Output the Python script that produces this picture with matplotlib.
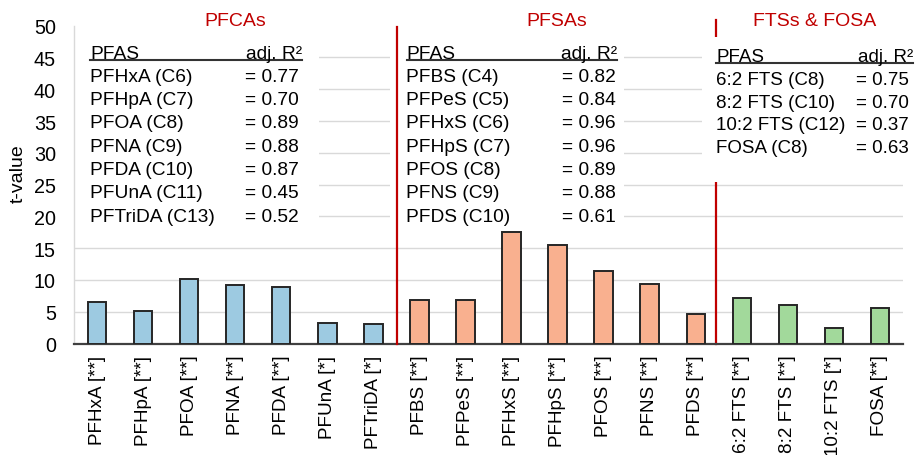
import matplotlib
matplotlib.use("Agg")
import matplotlib.pyplot as plt
from matplotlib.patches import Rectangle
from matplotlib.transforms import Affine2D

plt.rcParams['font.family'] = ['Liberation Sans', 'DejaVu Sans']

# ---- data -------------------------------------------------------------
compounds = ["PFHxA [**]", "PFHpA [**]", "PFOA [**]", "PFNA [**]", "PFDA [**]",
             "PFUnA [*]", "PFTriDA [*]",
             "PFBS [**]", "PFPeS [**]", "PFHxS [**]", "PFHpS [**]", "PFOS [**]",
             "PFNS [**]", "PFDS [**]",
             "6:2 FTS [**]", "8:2 FTS [**]", "10:2 FTS [*]", "FOSA [**]"]
t_values = [6.6, 5.1, 10.2, 9.2, 8.9, 3.3, 3.0,
            6.9, 6.9, 17.5, 15.5, 11.4, 9.3, 4.6,
            7.1, 6.1, 2.5, 5.6]
group_of = [0] * 7 + [1] * 7 + [2] * 4

group_names = ["PFCAs", "PFSAs", "FTSs & FOSA"]
group_colors = ["#9DCAE1", "#F9B08F", "#A2D99B"]

pfca_names = ["PFHxA (C6)", "PFHpA (C7)", "PFOA (C8)", "PFNA (C9)",
              "PFDA (C10)", "PFUnA (C11)", "PFTriDA (C13)"]
pfca_r2 = ["0.77", "0.70", "0.89", "0.88", "0.87", "0.45", "0.52"]
pfsa_names = ["PFBS (C4)", "PFPeS (C5)", "PFHxS (C6)", "PFHpS (C7)",
              "PFOS (C8)", "PFNS (C9)", "PFDS (C10)"]
pfsa_r2 = ["0.82", "0.84", "0.96", "0.96", "0.89", "0.88", "0.61"]
fts_names = ["6:2 FTS (C8)", "8:2 FTS (C10)", "10:2 FTS (C12)", "FOSA (C8)"]
fts_r2 = ["0.75", "0.70", "0.37", "0.63"]

y_ticks = [0, 5, 10, 15, 20, 25, 30, 35, 40, 45, 50]

# ---- figure -------------------------------------------------------------
W, H = 917, 456
fig = plt.figure(figsize=(W / 100, H / 100), dpi=100)
ax = fig.add_axes([74 / W, 1 - 344.5 / H, (903 - 74) / W, (344.5 - 26.7) / H])

# pixel-space transform (origin top-left) for free-standing text
pix = Affine2D().scale(1 / W, -1 / H).translate(0, 1) + fig.transFigure

FS = 13.8
RED = "#C00000"

x = list(range(len(compounds)))
ax.bar(x, t_values, width=0.4,
       color=[group_colors[g] for g in group_of],
       edgecolor="#262626", linewidth=1.4, zorder=3)

ax.set_xlim(-0.5, len(compounds) - 0.5)
ax.set_ylim(0, 50)
ax.set_yticks(y_ticks)
ax.set_xticks(x)
ax.set_xticklabels(compounds, rotation=90, fontsize=13.6)
ax.tick_params(axis="x", length=0, pad=8.0, colors="#000000")
ax.tick_params(axis="y", length=0, pad=13, labelsize=14.2)

ax.set_axisbelow(True)
ax.yaxis.grid(True, color="#D9D9D9", linewidth=1.0)
ax.get_ygridlines()[-1].set_visible(False)

for s in ["top", "right"]:
    ax.spines[s].set_visible(False)
ax.spines["left"].set_color("#D9D9D9")
ax.spines["left"].set_linewidth(1.0)
ax.spines["bottom"].set_color("#404040")
ax.spines["bottom"].set_linewidth(1.6)

# group separators
ax.plot([6.51, 6.51], [0, 49.8], color=RED, linewidth=1.6, zorder=4,
        clip_on=False)
ax.plot([13.43, 13.43], [0, 50.9], color=RED, linewidth=1.6, zorder=0.9,
        clip_on=False)

# white panels behind the R² tables
def px_to_x(px):
    return (px - 74) / ((903 - 74) / len(compounds)) - 0.5

for x0, x1, y0, y1 in [(75, 319, 17.6, 50), (390, 624, 17.6, 50),
                       (702, 917, 25.4, 48.2)]:
    ax.add_patch(Rectangle((px_to_x(x0), y0), px_to_x(x1) - px_to_x(x0),
                           y1 - y0, facecolor="white", edgecolor="none",
                           zorder=1, clip_on=False))

# y-axis label
fig.text(18.5, 173.5, "t-value", transform=pix, rotation=90,
         ha="center", va="center", fontsize=14)

# group titles
for name, cx in zip(group_names, [235, 557, 815]):
    fig.text(cx, 26, name, transform=pix, ha="center", va="baseline",
             fontsize=14, color=RED)


def draw_table(names, r2, x_name, x_val, x_right, y_head, y_rows, fs=FS):
    fig.text(x_name, y_head, "PFAS", transform=pix, ha="left",
             va="baseline", fontsize=fs)
    fig.text(x_right, y_head, "adj. R²", transform=pix, ha="right",
             va="baseline", fontsize=fs)
    fig.add_artist(plt.Line2D([x_name, x_right], [y_head + 2, y_head + 2],
                              transform=pix, color="#333333", linewidth=1.5))
    for n, v, yb in zip(names, r2, y_rows):
        fig.text(x_name, yb, n, transform=pix, ha="left", va="baseline",
                 fontsize=fs)
        fig.text(x_val, yb, "= " + v, transform=pix, ha="left",
                 va="baseline", fontsize=fs)


rows7 = [81.7 + 23.33 * i for i in range(7)]
draw_table(pfca_names, pfca_r2, 90, 245, 302, 59.3, rows7)
draw_table(pfsa_names, pfsa_r2, 406.5, 561.7, 616.7, 59.3, rows7)
draw_table(fts_names, fts_r2, 716, 856, 913, 62.3,
           [85, 107.7, 130.4, 153], fs=13.5)

fig.savefig("out.png", dpi=100)
